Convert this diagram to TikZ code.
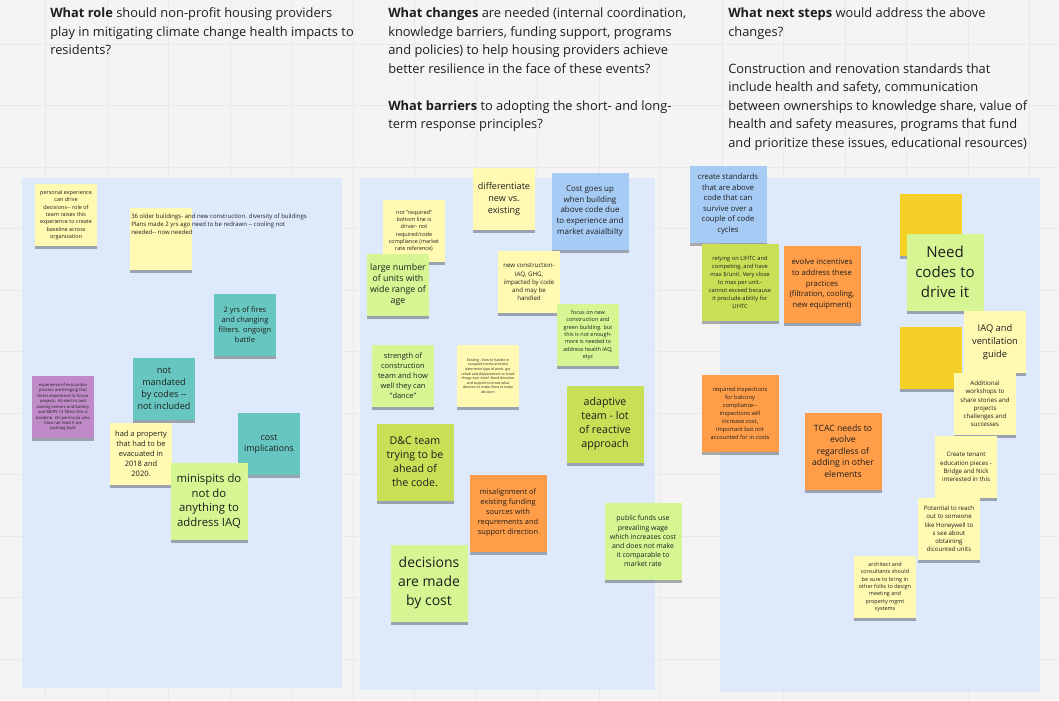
\documentclass[tikz,border=0pt]{standalone}
\usepackage{fontspec}
\setmainfont{Open Sans}
\usetikzlibrary{shadows}

\definecolor{boardbg}{HTML}{F4F4F4}
\definecolor{gridline}{HTML}{E9E9E9}
\definecolor{framebg}{HTML}{DEE9FB}
\definecolor{paleyellow}{HTML}{FFF9B1}
\definecolor{deepyellow}{HTML}{F5D128}
\definecolor{palegreen}{HTML}{D5F692}
\definecolor{olivegreen}{HTML}{C9DF56}
\definecolor{tealnote}{HTML}{67C6C0}
\definecolor{bluenote}{HTML}{A6CCF5}
\definecolor{orangenote}{HTML}{FF9D48}
\definecolor{violetnote}{HTML}{C08AC8}
\definecolor{inktext}{HTML}{1E1E1E}

\newcommand{\fsz}[2]{\fontsize{#1pt}{#2pt}\selectfont}

\tikzset{
    note/.style={minimum width=46.5pt, minimum height=46.5pt, inner sep=1pt, align=center, text=inktext,
        drop shadow={shadow xshift=0pt, shadow yshift=-2.5pt, opacity=0.3, fill=black}},
    bignote/.style={note, minimum width=57.75pt, minimum height=57.75pt},
    question/.style={anchor=north west, align=left, inner sep=0pt, text=inktext, font=\fsz{9.65}{13.9}},
    frame/.style={fill=framebg}
}

\begin{document}
\begin{tikzpicture}[x=0.75pt, y=-0.75pt]

        % --- BOARD ---
        \useasboundingbox (0,0) rectangle (1059,700);
        \fill[boardbg] (0,0) rectangle (1059,700);
        \foreach \gx in {45.5,107,...,1059} {
            \draw[gridline, line width=0.5pt] (\gx,0) -- (\gx,700);
        }
        \foreach \gy in {44,105.5,...,700} {
            \draw[gridline, line width=0.5pt] (0,\gy) -- (1059,\gy);
        }

        % --- QUESTIONS ---
        \node[question] (qrole) at (50,7.5) {\textbf{What role} should non-profit housing providers\\
            play in mitigating climate change health impacts to\\ residents?};
        \node[question] (qchange) at (388,7.5) {\textbf{What changes} are needed (internal coordination,\\
            knowledge barriers, funding support, programs\\
            and policies) to help housing providers achieve\\
            better resilience in the face of these events?\\[13.9pt]
            \textbf{What barriers} to adopting the short- and long-\\ term response principles?};
        \node[question] (qnext) at (728,7.5) {\textbf{What next steps} would address the above\\ changes?\\[13.9pt]
            Construction and renovation standards that\\
            include health and safety, communication\\
            between ownerships to knowledge share, value of\\
            health and safety measures, programs that fund\\
            and prioritize these issues, educational resources)};

        % --- FRAMES ---
        \fill[frame] (22,178) rectangle (342,688);
        \fill[frame] (360,178) rectangle (655,690);
        \fill[frame] (720,178) rectangle (1040,692);

        % --- ROLE ---
        \node[note, fill=paleyellow, font=\fsz{4.1}{5.5}] (experience) at (66,215) {personal experience\\ can drive\\
            decisions-{}- role of\\ team raises this\\ experience to create\\ baseline across\\ organization};
        \node[note, fill=paleyellow] (older) at (161,239) {};
        \node[anchor=north west, align=left, inner sep=0pt, text=inktext, font=\fsz{4.5}{6}] (olderText) at (131,214)
            {36 older buildings- and new construction. diversity of buildings\\
            Plans made 2 yrs ago need to be redrawn -{}- cooling not\\ needed-{}- now needed};
        \node[note, fill=tealnote, font=\fsz{5.6}{7.5}] (fires) at (245,325) {2 yrs of fires\\ and changing\\ filters. ongoign\\ battle};
        \node[note, fill=tealnote, font=\fsz{6.8}{9}] (mandated) at (164,389) {not\\ mandated\\ by codes -{}-\\ not included};
        \node[note, fill=violetnote, font=\fsz{3.1}{4.1}] (evacuation) at (63,407) {experience of evacuation\\
            process are bringing that\\ direct experience to future\\ projects. All electric and\\
            cooling centers and battery\\ and MERV 13 filters this is\\ baseline. On peninsula who\\
            have not lived it are\\ pushing back};
        \node[note, fill=paleyellow, font=\fsz{5.6}{7.5}] (property) at (141,454) {had a property\\ that had to be\\ evacuated in\\ 2018 and\\ 2020.};
        \node[note, fill=tealnote, font=\fsz{6.6}{8.6}] (cost) at (269,444) {cost\\ implications};
        \node[bignote, fill=palegreen, font=\fsz{8.5}{11}] (minisplits) at (209,501) {minispits do\\ not do\\ anything to\\ address IAQ};

        % --- CHANGES / BARRIERS ---
        \node[note, fill=paleyellow, font=\fsz{6.8}{9}] (differentiate) at (504,199) {differentiate\\ new vs.\\ existing};
        \node[bignote, fill=bluenote, font=\fsz{6}{7.9}] (aboveCode) at (590,211) {Cost goes up\\ when building\\
            above code due\\ to experience and\\ market avaialbilty};
        \node[note, fill=paleyellow, font=\fsz{4.1}{5.5}] (required) at (414,231) {not "required"\\ bottom line is\\
            driver- not\\ required/code\\ compliance (market\\ rate reference)};
        \node[note, fill=palegreen, font=\fsz{6.6}{8.3}] (units) at (398,285) {large number\\ of units with\\ wide range of\\ age};
        \node[note, fill=paleyellow, font=\fsz{4.6}{6.1}] (newBuild) at (529,282) {new construction-\\ IAQ, GHG,\\
            impacted by code\\ and may be\\ handled};
        \node[note, fill=palegreen, font=\fsz{4.1}{5.5}] (green) at (588,335) {focus on new\\ construction and\\
            green building. but\\ this is not enough-\\ more is needed to\\ address health IAQ,\\ etyc};
        \node[note, fill=palegreen, font=\fsz{5.6}{7.5}] (strength) at (403,376) {strength of\\ construction\\
            team and how\\ well they can\\ "dance"};
        \node[note, fill=paleyellow, font=\fsz{2.6}{3.4}] (existing) at (488,376) {Existing - how to handle in\\
            occupied rooms and also\\ determine type of work: gut\\ rehab and displacement or small\\
            things over time? Need direction\\ and support to know what\\ decision to make /how to make\\ decision};
        \node[bignote, fill=olivegreen, font=\fsz{8}{10.5}] (ahead) at (415,462) {D\&C team\\ trying to be\\ ahead of\\ the code.};
        \node[bignote, fill=olivegreen, font=\fsz{8}{10.5}] (adaptive) at (605,424) {adaptive\\ team - lot\\ of reactive\\ approach};
        \node[bignote, fill=orangenote, font=\fsz{5.6}{7.5}] (funding) at (508,513) {misalignment of\\ existing funding\\
            sources with\\ requrements and\\ support direction};
        \node[bignote, fill=palegreen, font=\fsz{10.5}{14}] (decisions) at (429,583) {decisions\\ are made\\ by cost};
        \node[bignote, fill=palegreen, font=\fsz{5.2}{6.8}] (wage) at (643,541) {public funds use\\ prevailing wage\\
            which increases cost\\ and does not make\\ it comparable to\\ market rate};

        % --- NEXT STEPS ---
        \node[bignote, fill=bluenote, font=\fsz{5.8}{7.9}] (standards) at (728,204) {create standards\\ that are above\\
            code that can\\ survive over a\\ couple of code\\ cycles};
        \node[bignote, fill=olivegreen, font=\fsz{4.3}{6}] (lihtc) at (740,282) {relying on LIHTC and\\ competing, and have\\
            max \$/unit. Very close\\ to max per unit.-\\ cannot exceed because\\ it preclude ability for\\ LIHTC};
        \node[bignote, fill=orangenote, font=\fsz{5.8}{7.9}] (incentives) at (822,284) {evolve incentives\\ to address these\\
            practices\\ (filtration, cooling,\\ new equipment)};
        \node[bignote, fill=orangenote, font=\fsz{4.3}{6}] (inspections) at (740,413) {required inspections\\ for balcony\\
            compliance-{}-\\ inspections will\\ increase cost,\\ important but not\\ accounted for in costs};
        \node[bignote, fill=orangenote, font=\fsz{6.5}{8.6}] (tcac) at (843,451) {TCAC needs to\\ evolve\\ regardless of\\
            adding in other\\ elements};
        \node[note, fill=deepyellow] (blankTop) at (931,225) {};
        \node[bignote, fill=palegreen, font=\fsz{11.3}{15}] (codes) at (945,272) {Need\\ codes to\\ drive it};
        \node[note, fill=deepyellow] (blankLow) at (931,358) {};
        \node[note, fill=paleyellow, font=\fsz{7}{9.8}] (ventilation) at (995,342) {IAQ and\\ ventilation\\ guide};
        \node[note, fill=paleyellow, font=\fsz{4.6}{6.2}] (workshops) at (985,404) {Additional\\ workshops to\\
            share stories and\\ projects\\ challenges and\\ successes};
        \node[note, fill=paleyellow, font=\fsz{4.6}{6.2}] (tenant) at (966,467) {Create tenant\\ education pieces -\\
            Bridge and Nick\\ interested in this};
        \node[note, fill=paleyellow, font=\fsz{4.6}{6.2}] (honeywell) at (949,529) {Potential to reach\\ out to someone\\
            like Honeywell to\\ s see about\\ obtaining\\ dicounted units};
        \node[note, fill=paleyellow, font=\fsz{4.1}{5.5}] (architect) at (885,587) {architect and\\ consultants should\\
            be sure to bring in\\ other folks to design\\ meeting and\\ property mgmt\\ systems};

    \end{tikzpicture}
\end{document}
